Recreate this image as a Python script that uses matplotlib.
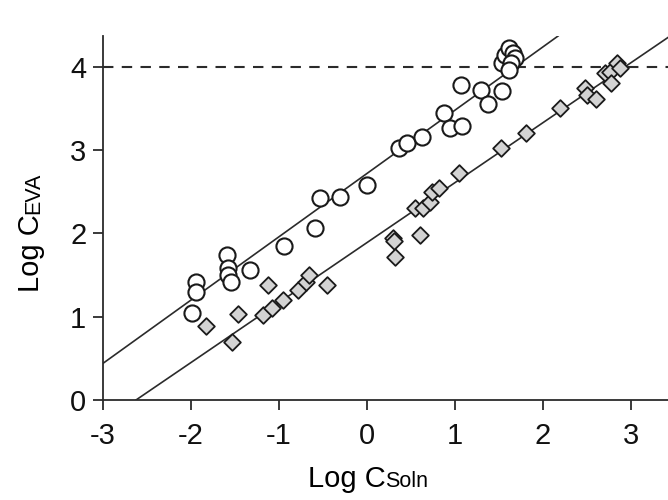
import matplotlib.pyplot as plt

plt.rcParams["font.family"] = ["Liberation Sans", "DejaVu Sans"]

# open circles (upper series)
circle_x = [-1.99, -1.94, -1.94, -1.59, -1.58, -1.58, -1.54, -1.33, -0.94, -0.59,
            -0.53, -0.31, 0.00, 0.36, 0.45, 0.62, 0.88, 0.94, 1.08, 1.07,
            1.30, 1.37, 1.53, 1.53, 1.57, 1.61, 1.66, 1.68, 1.64, 1.61]
circle_y = [1.04, 1.42, 1.30, 1.74, 1.58, 1.50, 1.42, 1.56, 1.85, 2.06,
            2.43, 2.44, 2.58, 3.03, 3.09, 3.16, 3.44, 3.26, 3.29, 3.78,
            3.72, 3.55, 3.71, 4.05, 4.14, 4.22, 4.16, 4.10, 4.04, 3.96]

# grey diamonds (lower series)
diamond_x = [-1.83, -1.53, -1.47, -1.18, -1.12, -1.08, -0.95, -0.78, -0.69, -0.66,
             -0.46, 0.30, 0.31, 0.32, 0.60, 0.55, 0.64, 0.72, 0.74, 0.82,
             1.04, 1.52, 1.81, 2.19, 2.48, 2.50, 2.60, 2.70, 2.76, 2.77,
             2.84, 2.88]
diamond_y = [0.89, 0.70, 1.03, 1.02, 1.38, 1.10, 1.20, 1.32, 1.42, 1.50,
             1.38, 1.95, 1.91, 1.72, 1.98, 2.30, 2.30, 2.38, 2.50, 2.54,
             2.72, 3.02, 3.20, 3.50, 3.75, 3.66, 3.61, 3.92, 3.94, 3.81,
             4.04, 3.99]

# fitted lines
circle_slope, circle_icpt = 0.76, 2.72
diamond_slope, diamond_icpt = 0.72, 1.89
limit_y = 4

dark = "#2b2b2b"

fig = plt.figure(figsize=(6.68, 5), dpi=100)
ax = fig.add_axes([103 / 668, 100 / 500, 565 / 668, 364 / 500])

ax.axhline(limit_y, color=dark, lw=1.5, ls=(0, (5, 4)), zorder=1)
ax.axline((0, circle_icpt), slope=circle_slope, color=dark, lw=1.2, zorder=1)
ax.axline((0, diamond_icpt), slope=diamond_slope, color=dark, lw=1.2, zorder=1)

ax.scatter(circle_x, circle_y, s=135, marker="o", facecolor="white",
           edgecolor="#1a1a1a", linewidth=1.5, zorder=3, clip_on=False)
ax.scatter(diamond_x, diamond_y, s=72, marker="D", facecolor="#d3d3d3",
           edgecolor="#1a1a1a", linewidth=1.3, zorder=3, clip_on=False)

ax.set_xlim(-3, 3.42)
ax.set_ylim(0, 4.37)
ax.set_xticks(range(-3, 4))
ax.set_yticks(range(0, 5))
ax.set_xticklabels([str(v) for v in range(-3, 4)])

for side in ["top", "right"]:
    ax.spines[side].set_visible(False)
for side in ["left", "bottom"]:
    ax.spines[side].set_color(dark)
    ax.spines[side].set_linewidth(1.3)
ax.tick_params(direction="out", length=7, width=1.3, color=dark,
               labelsize=21, labelcolor="#111111")
ax.tick_params(axis="x", pad=9)
ax.tick_params(axis="y", pad=5)

# axis titles with small-caps style subscripts on the baseline
fig.canvas.draw()
r = fig.canvas.get_renderer()

xa = fig.text(0, 1 - 487 / 500, "Log C", fontsize=21, ha="left", va="baseline")
xb = fig.text(0, 1 - 487 / 500, "Soln", fontsize=15.5, ha="left", va="baseline")
w1 = xa.get_window_extent(r).width
w2 = xb.get_window_extent(r).width
x0 = 368 - (w1 + w2) / 2
xa.set_x(x0 / 668)
xb.set_x((x0 + w1) / 668)

ya = fig.text(39 / 668, 0, "Log C", fontsize=21, rotation=90,
              rotation_mode="anchor", ha="left", va="baseline")
yb = fig.text(39 / 668, 0, "EVA", fontsize=15.5, rotation=90,
              rotation_mode="anchor", ha="left", va="baseline")
h1 = ya.get_window_extent(r).height
h2 = yb.get_window_extent(r).height
y0 = 500 - 232 - (h1 + h2) / 2
ya.set_y(y0 / 500)
yb.set_y((y0 + h1) / 500)

fig.savefig("out.png", dpi=100)
